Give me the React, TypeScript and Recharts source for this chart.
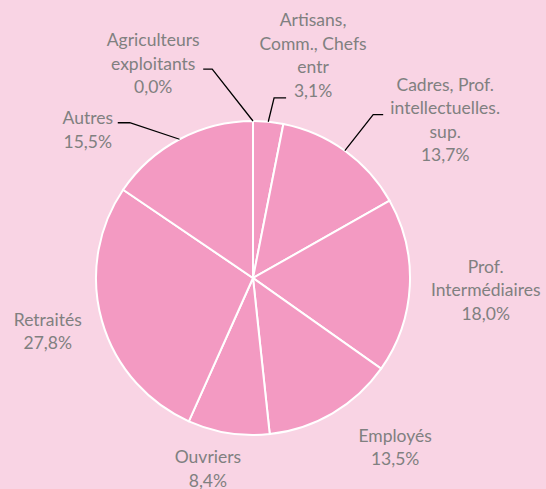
import { PieChart, Pie, Cell } from "recharts";

const categories = [
  "Agriculteurs\nexploitants",
  "Artisans,\nComm., Chefs\nentr",
  "Cadres, Prof.\nintellectuelles.\nsup.",
  "Prof.\nIntermédiaires",
  "Employés",
  "Ouvriers",
  "Retraités",
  "Autres",
];
const shares = [0.0, 3.1, 13.7, 18.0, 13.5, 8.4, 27.8, 15.5];

const pieData = categories.map((name, i) => ({ name, value: shares[i] }));

// label placement: angle shift (deg) and extra radius past the pie edge
const labelShift = [
  { da: 24.9, dr: 80 },
  { da: -9.5, dr: 74 },
  { da: -14.7, dr: 92 },
  { da: 0, dr: 76 },
  { da: 9.6, dr: 64 },
  { da: -4.3, dr: 39 },
  { da: -1.3, dr: 55 },
  { da: 20.2, dr: 65 },
];

// leader lines: end point relative to label centre, knee = end + kx
const leaders: Record<number, { ex: number; ey: number; kx: number }> = {
  0: { ex: 50, ey: 6, kx: 9 },
  1: { ex: -27, ey: 43, kx: -12 },
  2: { ex: -62, ey: -5, kx: -10 },
  7: { ex: 30, ey: -7, kx: 12 },
};

const RADIAN = Math.PI / 180;
const LINE_H = 23.5;

const fmt = (v: number) => v.toFixed(1).replace(".", ",") + "%";

const renderLabel = (props: any) => {
  const { cx, cy, midAngle, outerRadius, index, value } = props;
  const shift = labelShift[index];
  const ang = midAngle + shift.da;
  const rr = outerRadius + shift.dr;
  const lx = cx + rr * Math.cos(-ang * RADIAN);
  const ly = cy + rr * Math.sin(-ang * RADIAN);
  const lines = [...categories[index].split("\n"), fmt(value)];
  const n = lines.length;
  const lead = leaders[index];
  let leaderLine = null;
  if (lead) {
    const sx = cx + outerRadius * Math.cos(-midAngle * RADIAN);
    const sy = cy + outerRadius * Math.sin(-midAngle * RADIAN);
    const ex = lx + lead.ex;
    const ey = ly + lead.ey;
    const kx = ex + lead.kx;
    leaderLine = (
      <polyline
        points={`${ex},${ey} ${kx},${ey} ${sx},${sy}`}
        fill="none"
        stroke="#000000"
        strokeWidth={1.3}
      />
    );
  }
  return (
    <g key={`lbl-${index}`}>
      {leaderLine}
      <text
        x={lx}
        y={ly}
        textAnchor="middle"
        fill="#808080"
        fontSize={17.5}
        fontFamily="Lato, 'Open Sans', sans-serif"
      >
        {lines.map((t, i) => (
          <tspan key={i} x={lx} y={ly + (i - (n - 1) / 2) * LINE_H} dominantBaseline="central">
            {t}
          </tspan>
        ))}
      </text>
    </g>
  );
};

export default function App() {
  return (
    <div
      style={{
        position: "fixed",
        left: 0,
        top: 0,
        width: 546,
        height: 489,
        background: "#f9d4e4",
      }}
    >
      <PieChart width={546} height={489} margin={{ top: 0, right: 0, bottom: 0, left: 0 }}>
        <Pie
          data={pieData}
          dataKey="value"
          nameKey="name"
          cx={253}
          cy={278}
          outerRadius={157}
          startAngle={90}
          endAngle={-270}
          stroke="#ffffff"
          strokeWidth={2}
          labelLine={false}
          label={renderLabel}
          isAnimationActive={false}
        >
          {pieData.map((entry, index) => (
            <Cell key={`cell-${index}`} fill="#f39ac2" />
          ))}
        </Pie>
      </PieChart>
    </div>
  );
}
